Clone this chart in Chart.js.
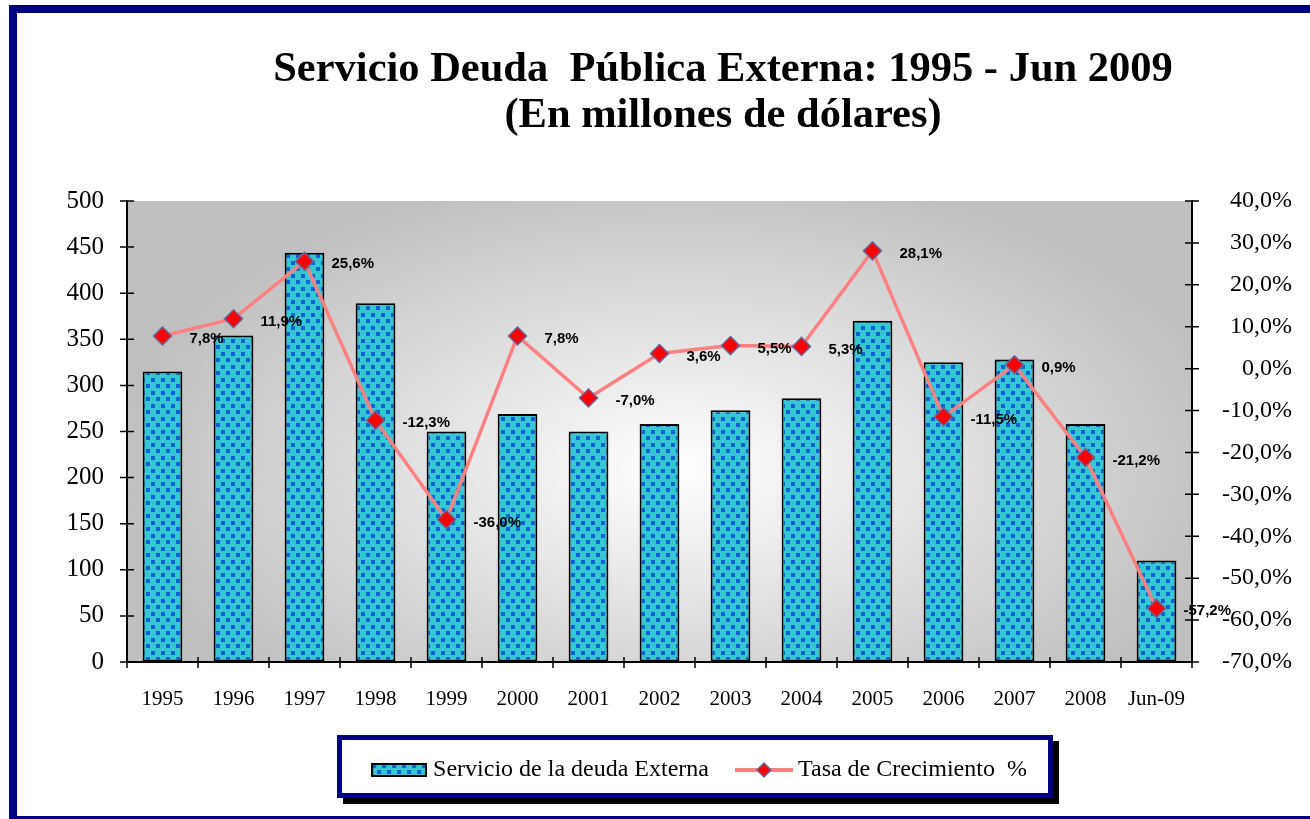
<!DOCTYPE html>
<html>
<head>
<meta charset="utf-8">
<script src="https://cdn.jsdelivr.net/npm/chart.js@4"></script>
<style>
  html, body { margin: 0; padding: 0; background: #ffffff; }
  #wrap { width: 1310px; height: 819px; position: relative; }
</style>
</head>
<body>
<div id="wrap"><canvas id="c" width="1310" height="819"></canvas></div>
<script>
// ---- data ----
const categories = ['1995','1996','1997','1998','1999','2000','2001','2002','2003','2004','2005','2006','2007','2008','Jun-09'];
const servicioDeuda = [315, 354, 444, 389, 250, 269, 250, 258, 273, 286, 370, 325, 328, 258, 110];
const tasaCrecimiento = [7.8, 11.9, 25.6, -12.3, -36.0, 7.8, -7.0, 3.6, 5.5, 5.3, 28.1, -11.5, 0.9, -21.2, -57.2];
const leftTicks = { min: 0, max: 500, step: 50 };
const rightTicks = { min: -70, max: 40, step: 10 };
const titleLines = ['Servicio Deuda  Pública Externa: 1995 - Jun 2009', '(En millones de dólares)'];
const seriesNames = ['Servicio de la deuda Externa', 'Tasa de Crecimiento  %'];

// ---- styles ----
const CYAN = '#36C8D2', DOT = '#1060D6', NAVY = '#000080';
const LINE = '#FF8080', MARK = '#FF0000', MARK_BORDER = '#666699';
const SERIF = "'Liberation Serif', 'Times New Roman', serif";
const SANS = "'Liberation Sans', Arial, sans-serif";

function makePattern() {
  const p = document.createElement('canvas');
  p.width = 10; p.height = 13;
  const c = p.getContext('2d');
  c.fillStyle = CYAN; c.fillRect(0, 0, 10, 13);
  c.fillStyle = DOT;
  c.fillRect(1, 1, 4, 4);
  c.fillRect(6, 7, 4, 4);
  return c.createPattern(p, 'repeat');
}
const barPattern = makePattern();

function barSwatch() {
  const s = document.createElement('canvas');
  s.width = 56; s.height = 14;
  const c = s.getContext('2d');
  c.fillStyle = barPattern; c.fillRect(0, 0, 56, 14);
  c.strokeStyle = '#000'; c.lineWidth = 2; c.strokeRect(1, 1, 54, 12);
  return s;
}
function lineSwatch() {
  const s = document.createElement('canvas');
  s.width = 58; s.height = 20;
  const c = s.getContext('2d');
  c.strokeStyle = LINE; c.lineWidth = 4;
  c.beginPath(); c.moveTo(0, 10); c.lineTo(58, 10); c.stroke();
  c.fillStyle = MARK; c.strokeStyle = MARK_BORDER; c.lineWidth = 1.5;
  c.beginPath(); c.moveTo(29 - 7, 10); c.lineTo(29, 3); c.lineTo(29 + 7, 10); c.lineTo(29, 17); c.closePath();
  c.fill(); c.stroke();
  return s;
}
const swatches = [barSwatch(), lineSwatch()];

const fmtPct = v => v.toFixed(1).replace('.', ',') + '%';

const LEGEND_SHIFT = 56;

const decorPlugin = {
  id: 'decor',
  afterLayout(chart) {
    chart.legend.left += LEGEND_SHIFT;
    chart.legend.right += LEGEND_SHIFT;
  },
  beforeDraw(chart) {
    const ctx = chart.ctx, a = chart.chartArea;
    ctx.save();
    ctx.fillStyle = '#ffffff';
    ctx.fillRect(0, 0, chart.width, chart.height);
    // outer frame
    ctx.fillStyle = NAVY;
    ctx.fillRect(9, 5, 1301, 8);
    ctx.fillRect(9, 5, 8, 814);
    ctx.fillRect(9, 816, 1301, 3);
    // plot area gradient
    const cx = (a.left + a.right) / 2 + 20, cy = a.top + (a.bottom - a.top) * 0.58;
    const rx = 560, ry = 300;
    ctx.save();
    ctx.beginPath(); ctx.rect(a.left, a.top, a.right - a.left, a.bottom - a.top); ctx.clip();
    ctx.translate(cx, cy); ctx.scale(1, ry / rx);
    const g = ctx.createRadialGradient(0, 0, 0, 0, 0, rx);
    g.addColorStop(0, '#ffffff'); g.addColorStop(1, '#c0c0c0');
    ctx.fillStyle = g;
    ctx.fillRect(-2000, -2000, 4000, 4000);
    ctx.restore();
    // legend frame with shadow
    ctx.fillStyle = '#000000'; ctx.fillRect(343, 741, 716, 63);
    ctx.fillStyle = NAVY; ctx.fillRect(337, 735, 716, 63);
    ctx.fillStyle = '#ffffff'; ctx.fillRect(342, 740, 706, 53);
    ctx.restore();
  },
  afterDraw(chart) {
    const ctx = chart.ctx, a = chart.chartArea;
    ctx.save();
    // title
    ctx.fillStyle = '#000';
    ctx.font = 'bold 42.5px ' + SERIF;
    ctx.textAlign = 'center'; ctx.textBaseline = 'alphabetic';
    ctx.fillText(titleLines[0], 723, 81);
    ctx.fillText(titleLines[1], 723, 127);
    // crossing tick marks
    ctx.strokeStyle = '#000'; ctx.lineWidth = 1.5;
    const y = chart.scales.y, y2 = chart.scales.y2, x = chart.scales.x;
    ctx.beginPath();
    y.ticks.forEach(t => { const p = y.getPixelForValue(t.value); ctx.moveTo(a.left - 7, p); ctx.lineTo(a.left + 7, p); });
    y2.ticks.forEach(t => { const p = y2.getPixelForValue(t.value); ctx.moveTo(a.right - 7, p); ctx.lineTo(a.right + 7, p); });
    for (let i = 0; i <= categories.length; i++) {
      let p;
      if (i === 0) p = a.left; else if (i === categories.length) p = a.right;
      else p = (x.getPixelForValue(i - 1) + x.getPixelForValue(i)) / 2;
      ctx.moveTo(p, a.bottom - 5); ctx.lineTo(p, a.bottom + 6);
    }
    ctx.stroke();
    ctx.restore();
  },
  afterDatasetsDraw(chart) {
    const ctx = chart.ctx;
    const meta = chart.getDatasetMeta(1);
    ctx.save();
    ctx.fillStyle = '#000';
    ctx.font = 'bold 15px ' + SANS;
    ctx.textAlign = 'left'; ctx.textBaseline = 'middle';
    meta.data.forEach((pt, i) => {
      ctx.fillText(fmtPct(tasaCrecimiento[i]), pt.x + 27, pt.y + 3);
    });
    ctx.restore();
  }
};

new Chart(document.getElementById('c'), {
  data: {
    labels: categories,
    datasets: [
      {
        type: 'bar',
        label: seriesNames[0],
        data: servicioDeuda,
        yAxisID: 'y',
        backgroundColor: barPattern,
        borderColor: '#000000',
        borderWidth: 2,
        borderSkipped: false,
        categoryPercentage: 1.0,
        barPercentage: 0.56,
        order: 2
      },
      {
        type: 'line',
        label: seriesNames[1],
        data: tasaCrecimiento,
        yAxisID: 'y2',
        borderColor: LINE,
        borderWidth: 3.5,
        pointStyle: 'rectRot',
        pointRadius: 9,
        pointBackgroundColor: MARK,
        pointBorderColor: MARK_BORDER,
        pointBorderWidth: 1.5,
        tension: 0,
        order: 1
      }
    ]
  },
  options: {
    responsive: false,
    animation: false,
    devicePixelRatio: 1,
    layout: { padding: { top: 201, left: 0, right: 18, bottom: 34 } },
    plugins: {
      title: { display: false },
      tooltip: { enabled: false },
      legend: {
        display: true,
        position: 'bottom',
        align: 'center',
        maxHeight: 60,
        labels: {
          usePointStyle: true,
          pointStyleWidth: 44,
          padding: 33,
          color: '#000',
          font: { family: SERIF, size: 24 },
          generateLabels: () => seriesNames.map((n, i) => ({
            text: n, pointStyle: swatches[i], datasetIndex: i, hidden: false,
            fillStyle: 'transparent', strokeStyle: 'transparent', lineWidth: 0, fontColor: '#000'
          }))
        }
      }
    },
    scales: {
      x: {
        type: 'category',
        offset: true,
        grid: { display: true, color: 'rgba(0,0,0,0)', drawTicks: false },
        border: { display: true, color: '#000', width: 2 },
        ticks: { color: '#000', font: { family: SERIF, size: 21 }, padding: 25, maxRotation: 0, autoSkip: false },
        afterFit: s => { s.height = 63; }
      },
      y: {
        type: 'linear',
        position: 'left',
        min: leftTicks.min, max: leftTicks.max,
        grid: { display: true, color: 'rgba(0,0,0,0)', drawTicks: false },
        border: { display: true, color: '#000', width: 2 },
        ticks: { stepSize: leftTicks.step, color: '#000', font: { family: SERIF, size: 25 }, padding: 23 },
        afterFit: s => { s.width = 127; }
      },
      y2: {
        type: 'linear',
        position: 'right',
        min: rightTicks.min, max: rightTicks.max,
        grid: { display: true, color: 'rgba(0,0,0,0)', drawTicks: false },
        border: { display: true, color: '#000', width: 2 },
        ticks: {
          stepSize: rightTicks.step, color: '#000', font: { family: SERIF, size: 24 }, padding: 26,
          crossAlign: 'far',
          callback: v => fmtPct(v)
        },
        afterFit: s => { s.width = 100; }
      }
    }
  },
  plugins: [decorPlugin]
});
</script>
</body>
</html>
